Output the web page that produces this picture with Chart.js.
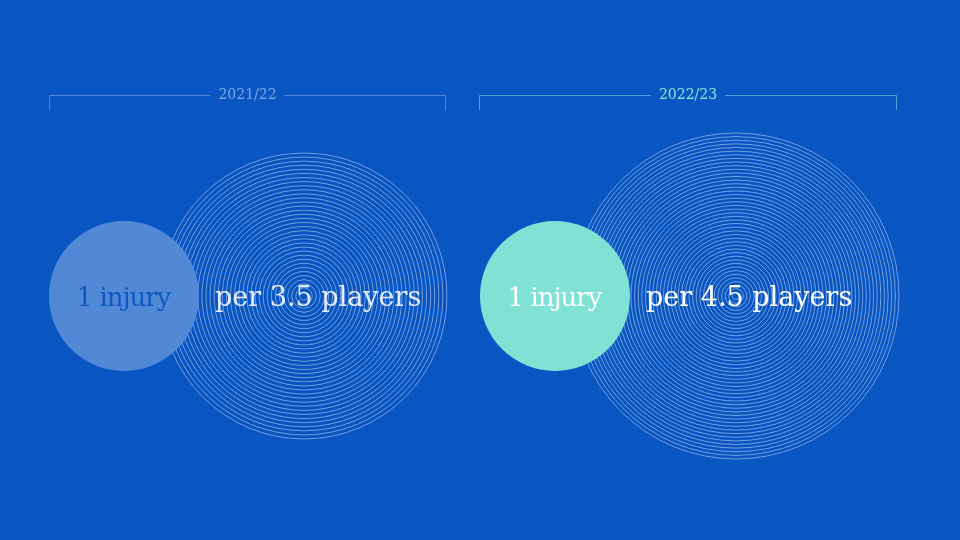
<!DOCTYPE html>
<html>
<head>
<meta charset="utf-8">
<script src="https://cdn.jsdelivr.net/npm/chart.js@4.4.1/dist/chart.umd.min.js"></script>
<style>
  html, body { margin: 0; padding: 0; background: #0956c3; }
  #wrap { width: 960px; height: 540px; }
</style>
</head>
<body>
<div id="wrap"><canvas id="c" width="960" height="540"></canvas></div>
<script>
// ---- data ----
const seasons = ['2021/22', '2022/23'];
const playersPerInjury = [3.5, 4.5];
const injuryLabels = ['1 injury', '1 injury'];
const perLabels = ['per 3.5 players', 'per 4.5 players'];
const ringCounts = [35, 45];
const smallRadius = 75;              // radius (scale units) of the "1 injury" disc
const bigRadius = [143, 163];        // radius (scale units) of the "players" ring disc
const smallCenters = [124, 555];
const bigCenters = [304, 736];
const bracketLeft = [49, 479];
const bracketRight = [446, 897];
const centerY = 296;

// ---- styles ----
const smallFill = ['#5289d6', '#80e2d5'];
const injuryText = ['#0e58c2', '#ffffff'];
const perText = ['#e3ecfa', '#ffffff'];
const headerText = ['#80a8e3', '#8ce6da'];
const bracketColor = ['#4d84d2', '#52a0d6'];

function rPix(chart, r) {
  const x = chart.scales.x;
  return Math.abs(x.getPixelForValue(r) - x.getPixelForValue(0));
}

const datasets = [];
seasons.forEach((s, i) => {
  datasets.push({
    label: s + ' injury',
    data: [{ x: smallCenters[i], y: centerY }],
    pointRadius: ctx => rPix(ctx.chart, smallRadius),
    pointBackgroundColor: smallFill[i],
    pointBorderWidth: 0,
    pointBorderColor: 'rgba(0,0,0,0)',
    order: 0,
    clip: false
  });
  const n = ringCounts[i];
  const ringPts = [];
  for (let k = 0; k < n; k++) ringPts.push({ x: bigCenters[i], y: centerY, ring: (k + 1) / n });
  datasets.push({
    label: s + ' rings (' + playersPerInjury[i] + ' players)',
    data: ringPts,
    pointRadius: ctx => rPix(ctx.chart, bigRadius[i] * ctx.raw.ring),
    pointBackgroundColor: 'rgba(0,0,0,0)',
    pointBorderColor: 'rgba(255,255,255,0.5)',
    pointBorderWidth: 0.85,
    order: 1,
    clip: false
  });
});

const labelPlugin = {
  id: 'labels',
  afterDatasetsDraw(chart) {
    const { ctx, scales: { x, y } } = chart;
    ctx.save();
    seasons.forEach((s, i) => {
      // header bracket
      const left = x.getPixelForValue(bracketLeft[i]);
      const right = x.getPixelForValue(bracketRight[i]);
      const yb = y.getPixelForValue(95);
      const yt = y.getPixelForValue(110);
      ctx.font = '14px "DejaVu Serif"';
      ctx.letterSpacing = '0px';
      const mid = (left + right) / 2;
      const tw = ctx.measureText(s).width;
      const gap = 8;
      ctx.strokeStyle = bracketColor[i];
      ctx.lineWidth = 1;
      ctx.beginPath();
      ctx.moveTo(left + 0.5, yt);
      ctx.lineTo(left + 0.5, yb + 0.5);
      ctx.lineTo(mid - tw / 2 - gap, yb + 0.5);
      ctx.moveTo(mid + tw / 2 + gap, yb + 0.5);
      ctx.lineTo(right - 0.5, yb + 0.5);
      ctx.lineTo(right - 0.5, yt);
      ctx.stroke();
      ctx.fillStyle = headerText[i];
      ctx.textAlign = 'center';
      ctx.textBaseline = 'middle';
      ctx.fillText(s, mid, yb);

      // circle texts
      const ty = y.getPixelForValue(centerY) + 3;
      ctx.font = '26px "DejaVu Serif"';
      ctx.letterSpacing = '-1px';
      ctx.fillStyle = injuryText[i];
      ctx.textAlign = 'center';
      ctx.textBaseline = 'middle';
      ctx.fillText(injuryLabels[i], x.getPixelForValue(smallCenters[i]) - 0.5, ty);
      ctx.font = '27px "DejaVu Serif"';
      ctx.letterSpacing = '0px';
      ctx.fillStyle = perText[i];
      ctx.textAlign = 'left';
      ctx.fillText(perLabels[i], x.getPixelForValue(smallCenters[i] + smallRadius + 16), ty);
    });
    ctx.restore();
  }
};

new Chart(document.getElementById('c'), {
  type: 'scatter',
  data: { datasets },
  options: {
    responsive: false,
    animation: false,
    events: [],
    layout: { padding: 0 },
    plugins: { legend: { display: false }, tooltip: { enabled: false } },
    scales: {
      x: { type: 'linear', min: 0, max: 960, display: false },
      y: { type: 'linear', min: 0, max: 540, reverse: true, display: false }
    }
  },
  plugins: [labelPlugin]
});
</script>
</body>
</html>
